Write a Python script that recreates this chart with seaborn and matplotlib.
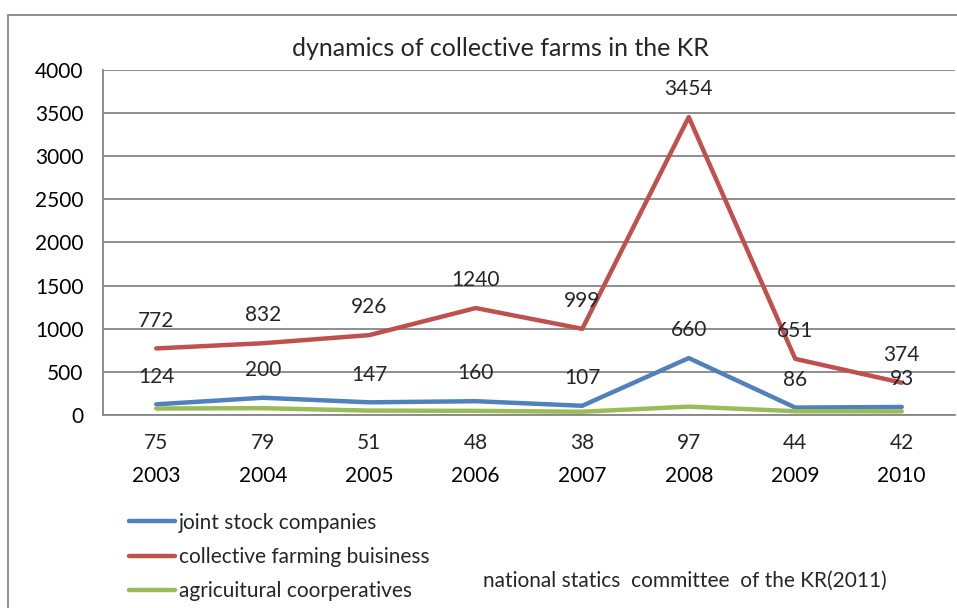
import matplotlib
matplotlib.use("Agg")
import matplotlib.pyplot as plt
import seaborn as sns
import pandas as pd
from matplotlib.patches import Rectangle
from matplotlib.ticker import MultipleLocator

years = [2003, 2004, 2005, 2006, 2007, 2008, 2009, 2010]
joint_stock = [124, 200, 147, 160, 107, 660, 86, 93]
collective = [772, 832, 926, 1240, 999, 3454, 651, 374]
coops = [75, 79, 51, 48, 38, 97, 44, 42]

series_names = ["joint stock companies", "collective farming buisiness", "agricuitural coorperatives"]
colors = ["#4F81BD", "#C0504D", "#9BBB59"]

df = pd.DataFrame({
    "year": years * 3,
    "value": joint_stock + collective + coops,
    "series": [series_names[0]] * 8 + [series_names[1]] * 8 + [series_names[2]] * 8,
})

sns.set_style("white")
plt.rcParams["font.family"] = ["Lato", "DejaVu Sans"]
grey = "#868686"
fs = 15

fig = plt.figure(figsize=(9.57, 6.08), dpi=100)
ax = fig.add_axes([103 / 957, 1 - 415 / 608, 852 / 957, 345 / 608])

sns.lineplot(data=df, x="year", y="value", hue="series", hue_order=series_names,
             palette=colors, linewidth=3.2, ax=ax, legend=True)

ax.set_xlim(2002.5, 2010.5)
ax.set_ylim(0, 4000)
ax.yaxis.set_major_locator(MultipleLocator(500))
ax.grid(axis="y", color=grey, linewidth=1.3)
ax.set_axisbelow(True)
for s in ["top", "right"]:
    ax.spines[s].set_visible(False)
for s in ["left", "bottom"]:
    ax.spines[s].set_color(grey)
    ax.spines[s].set_linewidth(1.3)

ax.set_xticks(years)
ax.set_xticklabels([str(y) for y in years])
ax.set_xticks([y + 0.5 for y in [2002] + years], minor=True)
ax.tick_params(axis="x", which="major", length=0, pad=37, labelsize=fs, colors="black")
ax.tick_params(axis="x", which="minor", length=5, width=1.3, color=grey)
ax.tick_params(axis="y", length=5, width=1.3, color=grey, pad=9, labelsize=fs, labelcolor="black")
ax.set_xlabel("")
ax.set_ylabel("")

# data labels
for y, v in zip(years, joint_stock):
    ax.annotate(str(v), (y, v), xytext=(0, 20), textcoords="offset points",
                ha="center", va="center", fontsize=fs)
for y, v in zip(years, collective):
    ax.annotate(str(v), (y, v), xytext=(0, 20), textcoords="offset points",
                ha="center", va="center", fontsize=fs)
for y, v in zip(years, coops):
    ax.annotate(str(v), (y, 0), xytext=(0, -20), textcoords="offset points",
                ha="center", va="center", fontsize=fs)

ax.set_title("dynamics of collective farms in the KR", fontsize=18, pad=10, x=0.467)

leg = ax.legend(loc="upper left", bbox_to_anchor=(110 / 957, 1 - 494 / 608),
                bbox_transform=fig.transFigure, frameon=False, fontsize=fs,
                handlelength=2.2, handletextpad=0.2, labelspacing=0.68)
for line in leg.get_lines():
    line.set_linewidth(3.2)

fig.text(483 / 957, 1 - 581 / 608, "national statics  committee  of the KR(2011)",
         fontsize=fs, va="center", ha="left")

# outer chart border
fig.patches.append(Rectangle((8 / 957, -0.1), 1.2, 1 - 15 / 608 + 0.1,
                             transform=fig.transFigure, fill=False,
                             edgecolor=grey, linewidth=1.3))

fig.savefig("out.png", dpi=100)
